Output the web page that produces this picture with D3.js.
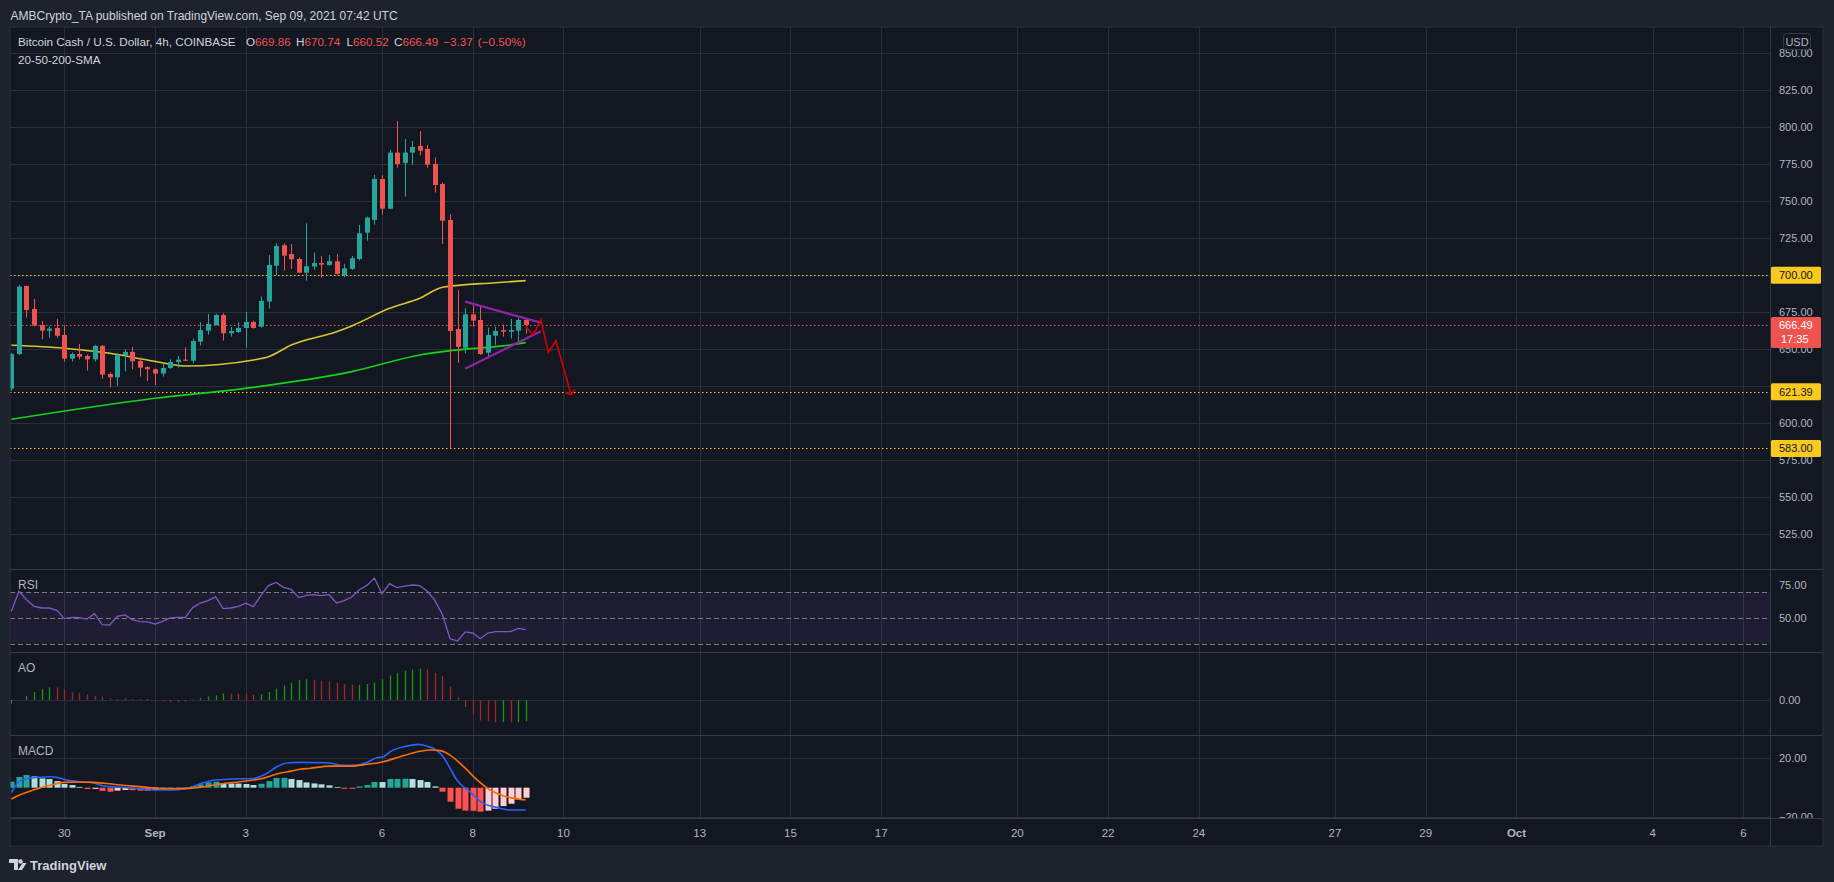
<!DOCTYPE html>
<html><head><meta charset="utf-8">
<script src="https://cdn.jsdelivr.net/npm/d3@7"></script>
<style>html,body{margin:0;padding:0;background:#1e222d;overflow:hidden}text{font-family:"Liberation Sans",Arial,sans-serif}</style>
</head><body>
<script>
// ---------------- DATA ----------------
const candleStartUTC = [2021, 7, 28, 20]; // Aug 28 2021 20:00 UTC, 4h bars
const opens  = [623.4,646.8,692.8,677.3,666.4,662.6,664.4,659.7,643.7,646.8,645.5,643.2,652.3,633.3,631.1,646.0,648.2,642.1,638.0,636.5,633.6,637.4,641.4,643.0,642.3,655.2,662.6,666.4,673.2,660.8,661.7,664.4,668.5,665.3,682.3,706.5,720.3,714.4,711.0,701.8,705.9,708.3,707.0,709.5,700.2,704.3,711.0,728.8,737.4,765.1,745.0,782.9,775.9,782.9,787.4,785.4,775.2,761.7,737.4,663.7,651.1,673.6,669.8,647.7,659.2,663.0,661.9,662.6,669.86];
const highs  = [647.5,693.5,693.0,684.0,669.1,665.5,670.5,666.0,647.8,653.6,646.5,653.0,652.9,634.5,647.3,650.0,651.6,644.6,638.5,637.0,640.5,643.2,645.5,651.4,657.4,668.2,673.9,674.0,674.3,664.9,668.2,675.2,669.4,685.6,713.7,721.6,721.6,721.2,712.2,735.1,715.5,713.0,713.7,714.4,707.7,713.0,734.0,739.6,767.8,767.6,784.7,804.3,792.1,790.8,797.5,788.0,779.7,762.6,741.2,690.1,677.7,680.2,678.8,664.6,665.3,666.9,670.5,671.0,670.74];
const lows   = [622.0,646.0,671.4,665.5,656.8,657.9,657.9,641.7,641.7,643.2,635.6,641.7,630.2,624.3,625.2,635.1,636.5,631.5,628.6,625.9,631.5,636.8,637.6,642.0,640.5,652.5,659.9,666.0,655.9,658.6,661.0,651.1,664.0,664.5,677.5,700.2,703.2,704.3,701.4,696.4,703.8,698.4,706.5,700.5,698.6,703.8,709.9,723.4,734.2,741.0,744.6,772.7,753.2,774.8,781.0,772.7,755.9,721.2,583.0,640.8,647.3,665.3,646.2,643.9,652.9,658.6,657.2,655.0,660.52];
const closes = [646.8,692.3,676.6,666.0,662.6,664.0,659.2,643.7,646.8,645.0,643.2,652.3,632.9,631.1,646.0,648.2,641.9,637.6,636.5,633.6,637.4,641.4,643.0,642.3,655.6,663.0,667.1,673.2,660.8,662.4,664.4,668.5,664.4,682.7,707.0,719.8,713.3,710.8,701.8,706.1,708.3,707.2,709.5,700.9,704.7,711.5,728.4,739.0,765.1,745.0,782.9,775.2,782.9,786.7,784.2,774.8,761.0,736.9,662.4,651.6,673.6,669.4,646.8,659.7,662.4,661.9,663.0,669.8,666.49];

// SMA lines read at bar indices
const sma50Idx  = [0,7,13,18,23,32,34,37,43,45,50,54,57,64,68];
const sma50Val  = [652.7,650.7,647.3,642.8,638.7,642.8,645.0,652.9,661.9,665.8,677.7,684.5,691.9,695.0,696.4];
const sma200Idx = [0,19,32,45,54,58,65,68];
const sma200Val = [602.7,616.9,624.3,634.9,646.2,649.1,652.3,654.5];

// drawn triangle & projection (bar index, price)
const triUpper = [[60,682.2],[70,668.0]];
const triLower = [[60,636.9],[70,662.2]];
const projection = [[68,665.3],[69,659.7],[70,669.8],[71,648.0],[72,655.8],[74,619.1]];
const projArrow = [[73.3,621.0],[74,619.1],[74.5,623.0]];

// horizontal levels
const levelLines = [700.00, 621.39, 583.00];
const lastPrice = 666.49;
const countdown = "17:35";

// price axis ticks
const priceTicks = [525,550,575,600,625,650,675,700,725,750,775,800,825,850];

// time axis
const tickDates  = [[2021,7,30],[2021,8,1],[2021,8,3],[2021,8,6],[2021,8,8],[2021,8,10],[2021,8,13],[2021,8,15],[2021,8,17],[2021,8,20],[2021,8,22],[2021,8,24],[2021,8,27],[2021,8,29],[2021,9,1],[2021,9,4],[2021,9,6]];
const tickLabels = ["30","Sep","3","6","8","10","13","15","17","20","22","24","27","29","Oct","4","6"];
const boldLabels = ["Sep","Oct"];

// RSI per bar
const rsi = [55.1,70.3,63.9,58.9,57.6,57.6,55.8,49.5,50.5,50.3,49.2,53.3,44.9,44.7,51.3,52.3,48.7,47.2,47.0,45.4,47.5,50.0,50.5,50.5,58.1,61.4,63.2,66.0,57.1,57.6,58.9,61.2,58.6,67.2,74.6,77.1,73.3,71.8,65.5,67.2,67.7,67.0,67.7,61.4,63.2,66.0,71.5,74.8,80.4,68.5,76.1,73.1,74.3,75.1,74.6,70.3,63.4,52.5,34.3,32.5,39.4,38.6,34.3,38.6,39.6,39.6,39.6,42.1,41.1];
const rsiLevels = [70,50,30];
const rsiTicks = [75,50];

// Awesome Oscillator per bar
const ao = [-4.3,0.3,5,10,13.3,16,15.9,13.3,10,9,7,5,4,2,1.3,1.5,1.3,1.2,1.4,0,-1.7,-2.7,-2.8,-1.7,0.5,2.3,4.3,6,8,7.9,7.8,7.7,6.7,7.3,10,14,18,21.7,25,26,25,24,23,21.7,20,19,19.2,20,22,26,30.7,34,37,38,39,38,34,30,17,4,-8.7,-18,-25.7,-26.7,-27.7,-27.5,-27.7,-27.5,-26.7];
const aoTicks = [0];

// MACD histogram per bar, MACD / signal lines read at bar positions
const macdHist = [4.1,7.3,8.6,7.7,6.3,5.9,4.5,2.5,1.8,0.5,-0.9,-0.8,-2.2,-2.7,-2.0,-1.6,-1.7,-2.0,-2.1,-1.6,-1.2,-0.9,-0.7,-0.5,1.1,2.3,3.6,4.1,2.9,2.85,2.8,2.5,1.8,2.7,4.5,6.6,6.7,5.9,5.2,3.6,2.9,2.3,1.6,0.5,-0.7,-0.75,0.9,1.8,3.9,3.85,5.9,6.0,6.1,5.9,5.2,3.9,0.9,-2.7,-9.5,-14.3,-15.6,-15.7,-16.3,-15.6,-14.3,-12.5,-10.9,-7.9,-6.8];
const macdLine = [[0,-3.4],[1,4.1],[2,6.3],[3.35,7.0],[5.1,7.5],[6,7.0],[7.3,5.2],[9.1,4.1],[10.8,3.4],[12.2,1.1],[13,0.7],[15.25,0],[17,-0.7],[19,-1.6],[21,-1.6],[23.2,-0.5],[24.9,2.5],[26.9,5.2],[29.3,5.9],[32,6.3],[33.8,9.8],[35.1,14.3],[36.8,17.0],[38.2,17.2],[41.7,17.0],[43.9,15.2],[45.7,15.4],[47,17.2],[48.3,20.4],[49.2,21.1],[50.1,24.5],[52.3,28.3],[53.8,29.5],[54.9,28.3],[56.2,25.6],[57.1,21.1],[58,13.2],[58.9,5.2],[60.6,-2.7],[62.4,-10.7],[64.2,-13.4],[65.9,-15.2],[68,-15.2]];
const signalLine = [[0,-7.7],[1.1,-5.0],[2.9,-1.6],[5.1,1.6],[6.9,3.6],[9.1,3.9],[10.8,3.6],[12.6,2.9],[14.4,1.8],[17,0.7],[19.7,-0.5],[22.3,-0.7],[24.9,0.2],[27.6,2.5],[30.2,4.1],[32.9,5.9],[35.1,9.3],[36.8,11.1],[38.2,12.5],[39.5,13.2],[42.1,14.7],[44.8,14.7],[47,15.9],[49.2,17.7],[51.4,21.1],[53.6,24.3],[55.4,25.6],[56.7,25.2],[58,22.2],[59.8,14.3],[61.5,5.7],[63.3,-1.6],[65,-5.4],[68,-8.4]];
const macdTicks = [20,-20];

// texts
const headerText = "AMBCrypto_TA published on TradingView.com, Sep 09, 2021 07:42 UTC";
const titleText = "Bitcoin Cash / U.S. Dollar, 4h, COINBASE";
const ohlcLabels = ["O","H","L","C"];
const ohlcValues = ["669.86","670.74","660.52","666.49"];
const changeParts = ["\u22123.37", "(\u22120.50%)"];
const studyText = "20-50-200-SMA";

// ---------------- LAYOUT ----------------
const W = 1834, H = 882;
const L = 10, R = 1770, RR = 1823, T = 27, B = 846, axisY = 818.5;
const panes = {price:[T,569.3], rsi:[569.3,652.3], ao:[652.3,735], macd:[735,818]};
const C = {bg:"#131722", outer:"#1e222d", grid:"#2a2e39", sep:"#363a45", text:"#b2b5be",
  up:"#26a69a", down:"#ef5350", yellow:"#f9c91d", sma50:"#d8c531", sma200:"#17d317"};

const svg = d3.select("body").append("svg").attr("width", W).attr("height", H);
svg.append("rect").attr("width", W).attr("height", H).attr("fill", C.outer);
svg.append("rect").attr("x", L).attr("y", T).attr("width", RR - L).attr("height", B - T)
  .attr("fill", C.bg).attr("stroke", "#2a2e39");

const HOUR = 3600e3;
const t0 = Date.UTC(...candleStartUTC);
const tAt = i => new Date(t0 + i * 4 * HOUR);
const x = d3.scaleUtc()
  .domain([new Date(Date.UTC(2021,7,30)), new Date(Date.UTC(2021,9,6))])
  .range([64.3, 1743.4]);
const xi = i => x(tAt(i));
const barW = (xi(1) - xi(0));

const y = d3.scaleLinear().domain([525, 850]).range([534.3, 53.3]);
const yR = d3.scaleLinear().domain([30, 70]).range([644.3, 591.7]);
const yA = d3.scaleLinear().domain([-30, 30]).range([724, 676]);
const yM = d3.scaleLinear().domain([-20, 20]).range([817.1, 758.3]);

const defs = svg.append("defs");
function clip(id, y0, y1) {
  defs.append("clipPath").attr("id", id).append("rect")
    .attr("x", L + 0.5).attr("y", y0).attr("width", R - L - 0.5).attr("height", y1 - y0);
}
clip("cp", panes.price[0], panes.price[1]);
clip("cr", panes.rsi[0], panes.rsi[1]);
clip("ca", panes.ao[0], panes.ao[1]);
clip("cm", panes.macd[0], panes.macd[1]);

const tickDateObjs = tickDates.map(d => new Date(Date.UTC(...d)));
svg.append("g").selectAll("line").data(tickDateObjs).join("line")
  .attr("x1", d => Math.round(x(d)) + 0.5).attr("x2", d => Math.round(x(d)) + 0.5)
  .attr("y1", T).attr("y2", axisY).attr("stroke", C.grid);

svg.append("g").selectAll("line").data(priceTicks).join("line")
  .attr("x1", L).attr("x2", R).attr("y1", d => Math.round(y(d)) + 0.5).attr("y2", d => Math.round(y(d)) + 0.5)
  .attr("stroke", C.grid);

[panes.rsi[0], panes.ao[0], panes.macd[0]].forEach(v => {
  svg.append("line").attr("x1", L).attr("x2", RR).attr("y1", Math.round(v) + 0.5).attr("y2", Math.round(v) + 0.5).attr("stroke", C.sep);
});
svg.append("line").attr("x1", L).attr("x2", RR).attr("y1", axisY).attr("y2", axisY).attr("stroke", C.sep);
svg.append("line").attr("x1", R + 0.5).attr("x2", R + 0.5).attr("y1", T).attr("y2", B).attr("stroke", C.sep);

// ---------- price pane ----------
const gp = svg.append("g").attr("clip-path", "url(#cp)");
gp.selectAll("line.lv").data(levelLines).join("line").attr("class", "lv")
  .attr("x1", L).attr("x2", R).attr("y1", d => Math.round(y(d)) + 0.5).attr("y2", d => Math.round(y(d)) + 0.5)
  .attr("stroke", C.yellow).attr("stroke-width", 1.2).attr("stroke-dasharray", "1.5,2.5");
gp.append("line").attr("x1", L).attr("x2", R).attr("y1", Math.round(y(lastPrice)) + 0.5).attr("y2", Math.round(y(lastPrice)) + 0.5)
  .attr("stroke", C.down).attr("stroke-width", 1.2).attr("stroke-dasharray", "1.5,2.5");

const lineP = d3.line().x(d => xi(d[0])).y(d => y(d[1]));
const lineS = d3.line().x(d => xi(d[0])).y(d => y(d[1])).curve(d3.curveMonotoneX);
gp.append("path").datum(sma200Idx.map((d, k) => [d, sma200Val[k]])).attr("d", lineS)
  .attr("fill", "none").attr("stroke", C.sma200).attr("stroke-width", 1.6);
gp.append("path").datum(sma50Idx.map((d, k) => [d, sma50Val[k]])).attr("d", lineS)
  .attr("fill", "none").attr("stroke", C.sma50).attr("stroke-width", 1.6);

const idx = d3.range(opens.length);
const bw = Math.max(1, Math.round(barW * 0.7));
const cg = gp.append("g");
cg.selectAll("line").data(idx).join("line")
  .attr("x1", i => Math.round(xi(i)) + 0.5).attr("x2", i => Math.round(xi(i)) + 0.5)
  .attr("y1", i => y(highs[i])).attr("y2", i => y(lows[i]))
  .attr("stroke", i => closes[i] >= opens[i] ? C.up : C.down);
cg.selectAll("rect").data(idx).join("rect")
  .attr("x", i => Math.round(xi(i)) + 0.5 - bw / 2).attr("width", bw)
  .attr("y", i => y(Math.max(opens[i], closes[i])))
  .attr("height", i => Math.max(1, Math.abs(y(opens[i]) - y(closes[i]))))
  .attr("fill", i => closes[i] >= opens[i] ? C.up : C.down);

[triUpper, triLower].forEach(seg => gp.append("path").datum(seg).attr("d", lineP)
  .attr("fill", "none").attr("stroke", "#8e24aa").attr("stroke-width", 2.2));
gp.append("path").datum(projection).attr("d", lineP).attr("fill", "none").attr("stroke", "#d50000").attr("stroke-width", 1.6);
gp.append("path").datum(projArrow).attr("d", lineP).attr("fill", "none").attr("stroke", "#d50000").attr("stroke-width", 1.6);

// ---------- RSI pane ----------
const gr = svg.append("g").attr("clip-path", "url(#cr)");
gr.append("rect").attr("x", L).attr("width", R - L).attr("y", yR(70)).attr("height", yR(30) - yR(70)).attr("fill", "rgba(126,87,194,0.10)");
gr.selectAll("line").data(rsiLevels).join("line")
  .attr("x1", L).attr("x2", R).attr("y1", d => Math.round(yR(d)) + 0.5).attr("y2", d => Math.round(yR(d)) + 0.5)
  .attr("stroke", "#787b86").attr("stroke-dasharray", "5,3");
gr.append("path").datum(rsi).attr("d", d3.line().x((d, i) => xi(i)).y(d => yR(d)))
  .attr("fill", "none").attr("stroke", "#7e57c2").attr("stroke-width", 1.3);

// ---------- AO pane ----------
const ga = svg.append("g").attr("clip-path", "url(#ca)");
ga.append("line").attr("x1", L).attr("x2", R).attr("y1", Math.round(yA(0)) + 0.5).attr("y2", Math.round(yA(0)) + 0.5).attr("stroke", C.grid);
ga.selectAll("line.b").data(idx).join("line").attr("class", "b")
  .attr("x1", i => Math.round(xi(i)) + 0.5).attr("x2", i => Math.round(xi(i)) + 0.5)
  .attr("y1", yA(0)).attr("y2", i => yA(ao[i]))
  .attr("stroke", i => (i === 0 || ao[i] > ao[i - 1]) ? "#0f9a0f" : "#a32424").attr("stroke-width", 1.3);

// ---------- MACD pane ----------
const gm = svg.append("g").attr("clip-path", "url(#cm)");
gm.selectAll("line").data(macdTicks).join("line")
  .attr("x1", L).attr("x2", R).attr("y1", d => Math.round(yM(d)) + 0.5).attr("y2", d => Math.round(yM(d)) + 0.5).attr("stroke", C.grid);
const hw = Math.round(barW * 0.82);
gm.selectAll("rect").data(idx).join("rect")
  .attr("x", i => Math.round(xi(i)) + 0.5 - hw / 2).attr("width", hw)
  .attr("y", i => Math.min(yM(0), yM(macdHist[i])))
  .attr("height", i => Math.abs(yM(macdHist[i]) - yM(0)))
  .attr("fill", i => {
    const v = macdHist[i], p = i ? macdHist[i - 1] : -Infinity;
    if (v >= 0) return v > p ? "#26a69a" : "#b2dfdb";
    return v < p ? "#ff5252" : "#ffcdd2";
  });
const lineM = d3.line().x(d => xi(d[0])).y(d => yM(d[1])).curve(d3.curveMonotoneX);
gm.append("path").datum(macdLine).attr("d", lineM).attr("fill", "none").attr("stroke", "#2962ff").attr("stroke-width", 1.6);
gm.append("path").datum(signalLine).attr("d", lineM).attr("fill", "none").attr("stroke", "#ff6d00").attr("stroke-width", 1.6);

// ---------- axes text ----------
// tick labels fully hidden behind a level badge are dropped, as the platform does
const shownPriceTicks = priceTicks.filter(p => levelLines.every(v => Math.abs(y(p) - y(v)) > 7));
const ax = svg.append("g").attr("font-size", 11).attr("fill", C.text);
ax.selectAll("text.p").data(shownPriceTicks).join("text").attr("class", "p")
  .attr("x", 1779).attr("y", d => y(d) + 4).text(d => d.toFixed(2));
ax.selectAll("text.r").data(rsiTicks).join("text").attr("class", "r")
  .attr("x", 1779).attr("y", d => yR(d) + 4).text(d => d.toFixed(2));
ax.selectAll("text.a").data(aoTicks).join("text").attr("class", "a")
  .attr("x", 1779).attr("y", d => yA(d) + 4).text(d => d.toFixed(2));
defs.append("clipPath").attr("id", "cmx").append("rect").attr("x", R).attr("y", panes.macd[0]).attr("width", 60).attr("height", panes.macd[1] - panes.macd[0]);
ax.append("g").attr("clip-path", "url(#cmx)").selectAll("text").data(macdTicks).join("text")
  .attr("x", 1779).attr("y", d => yM(d) + 4).text(d => d < 0 ? "\u2212" + Math.abs(d).toFixed(2) : d.toFixed(2));

levelLines.forEach(v => {
  const yy = y(v);
  svg.append("rect").attr("x", R + 1).attr("y", yy - 8.5).attr("width", 50).attr("height", 17).attr("rx", 1.5).attr("fill", C.yellow);
  svg.append("text").attr("x", 1779).attr("y", yy + 4).attr("font-size", 11).attr("fill", "#131722").text(v.toFixed(2));
});
{
  const yy = y(lastPrice);
  svg.append("rect").attr("x", R + 1).attr("y", yy - 8).attr("width", 50).attr("height", 31).attr("rx", 1.5).attr("fill", C.down);
  svg.append("text").attr("x", 1779).attr("y", yy + 4).attr("font-size", 11).attr("fill", "#ffffff").text(lastPrice.toFixed(2));
  svg.append("text").attr("x", 1781).attr("y", yy + 18).attr("font-size", 11).attr("fill", "#ffffff").text(countdown);
}
svg.append("rect").attr("x", 1783.5).attr("y", 33.5).attr("width", 27).attr("height", 16).attr("rx", 3)
  .attr("fill", C.bg).attr("stroke", "#363a45");
svg.append("text").attr("x", 1797).attr("y", 45.5).attr("text-anchor", "middle").attr("font-size", 11).attr("fill", C.text).text("USD");

svg.append("g").selectAll("text").data(tickDateObjs).join("text")
  .attr("x", d => x(d)).attr("y", 837).attr("text-anchor", "middle")
  .attr("font-size", 11.5).attr("fill", C.text)
  .attr("font-weight", (d, k) => boldLabels.includes(tickLabels[k]) ? "bold" : "normal")
  .text((d, k) => tickLabels[k]);

svg.append("text").attr("x", 18).attr("y", 589).attr("font-size", 12).attr("fill", C.text).text("RSI");
svg.append("text").attr("x", 18).attr("y", 672).attr("font-size", 12).attr("fill", C.text).text("AO");
svg.append("text").attr("x", 18).attr("y", 755).attr("font-size", 12).attr("fill", C.text).text("MACD");

// header
svg.append("text").attr("x", 10.5).attr("y", 19.5).attr("font-size", 12).attr("fill", "#d1d4dc").text(headerText);
const hdr = svg.append("g");
const title = hdr.append("text").attr("x", 18).attr("y", 46).attr("font-size", 13).attr("fill", "#d1d4dc").text(titleText);
const fs = Math.min(13, 13 * 218 / title.node().getComputedTextLength());
hdr.attr("font-size", fs); title.attr("font-size", fs);
const targetX = [246, 296, 346.5, 394, 442.5, 470];
let cursor = 18 + title.node().getComputedTextLength();
const items = ohlcLabels.map((lb, k) => [lb, ohlcValues[k]]).concat([[null, changeParts[0]], [null, changeParts[1]]]);
items.forEach(([lb, val], k) => {
  const px = Math.max(targetX[k], cursor + 5);
  const t = hdr.append("text").attr("x", px).attr("y", 46).attr("fill", "#d1d4dc");
  if (lb) t.append("tspan").text(lb);
  t.append("tspan").attr("fill", C.down).text(val);
  cursor = px + t.node().getComputedTextLength();
});
hdr.append("text").attr("x", 18).attr("y", 64).attr("fill", "#d1d4dc").text(studyText);

// TradingView logo
const lg = svg.append("g").attr("fill", "#d1d4dc");
lg.append("path").attr("d", "M9 859 h9 v11 h-4 v-7 h-5 z");
lg.append("circle").attr("cx", 20.5).attr("cy", 861.5).attr("r", 2.2);
lg.append("path").attr("d", "M18 870 l4.5 -7 h4 l-4.5 7 z");
svg.append("text").attr("x", 30).attr("y", 870).attr("font-size", 13).attr("font-weight", "bold").attr("fill", "#d1d4dc").text("TradingView");
</script>
</body></html>
